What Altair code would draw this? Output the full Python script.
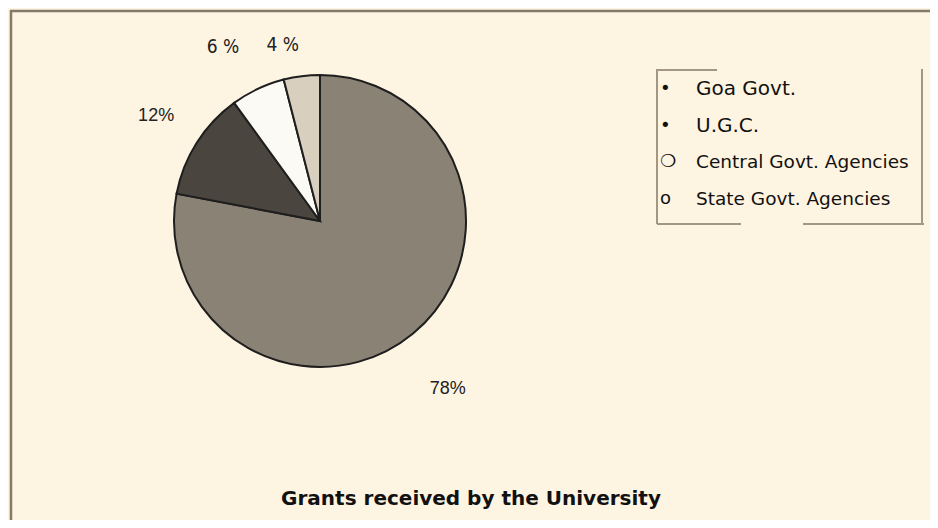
import altair as alt
import pandas as pd

# ---- data ----
categories = ["Goa Govt.", "U.G.C.", "Central Govt. Agencies", "State Govt. Agencies"]
shares = [78, 12, 6, 4]
share_labels = ["78%", "12%", "6 %", "4 %"]
legend_bullets = ["\u2022", "\u2022", "\u274D", "o"]
slice_colors = ["#8a8274", "#4a453e", "#fbfaf4", "#d8cfbf"]
title_text = "Grants received by the University"

df = pd.DataFrame({
    "cat": categories,
    "share": shares,
    "label": share_labels,
    "bullet": legend_bullets,
    "idx": list(range(len(categories))),
})

BG = "#fef4e2"
CX, CY = 310, 211   # pie centre (chart coords)

base = alt.Chart(df)

theta = alt.Theta("share:Q", stack=True)
order = alt.Order("idx:Q")

pie = base.mark_arc(outerRadius=146, stroke="#1e1e1e", strokeWidth=2).encode(
    theta=theta,
    order=order,
    color=alt.Color("cat:N", scale=alt.Scale(domain=categories, range=slice_colors), legend=None),
    x=alt.value(CX),
    y=alt.value(CY),
)

# per-label placement (radius, dx, dy, font, size)
label_style = [
    (210, -6, 6, "Liberation Sans", 18),
    (200, 5, 2, "Liberation Sans", 18),
    (195, -14, 2, "DejaVu Sans Condensed, DejaVu Sans", 19),
    (178, -15, 1, "DejaVu Sans Condensed, DejaVu Sans", 19),
]
label_layers = []
for i, (r, dx, dy, font, fs) in enumerate(label_style):
    label_layers.append(
        base.mark_text(radius=r, dx=dx, dy=dy, font=font, fontSize=fs,
                       color="#222222", align="center", baseline="middle").encode(
            theta=theta,
            order=order,
            text=alt.condition(alt.datum.idx == i, alt.Text("label:N"), alt.value("")),
            x=alt.value(CX),
            y=alt.value(CY),
        )
    )

legend_y = alt.Y("idx:Q", scale=alt.Scale(domain=[0, 3], range=[79, 189]), axis=None)

legend_bullet = base.mark_text(align="left", baseline="middle", font="DejaVu Sans",
                               fontSize=18, color="#111111").encode(
    x=alt.value(650),
    y=legend_y,
    text="bullet:N",
)
legend_text_top = base.transform_filter(alt.datum.idx < 2).mark_text(
    align="left", baseline="middle", font="DejaVu Sans", fontSize=20, color="#111111").encode(
    x=alt.value(686),
    y=legend_y,
    text="cat:N",
)
legend_text_bot = base.transform_filter(alt.datum.idx >= 2).mark_text(
    align="left", baseline="middle", font="DejaVu Sans", fontSize=18.5, color="#111111").encode(
    x=alt.value(686),
    y=legend_y,
    text="cat:N",
)

one = alt.Chart(pd.DataFrame({"k": [0]}))
box_color = "#a39682"
box = [
    one.mark_rule(color=box_color, strokeWidth=2).encode(x=alt.value(647), y=alt.value(59), y2=alt.value(214)),
    one.mark_rule(color=box_color, strokeWidth=2).encode(x=alt.value(912), y=alt.value(59), y2=alt.value(214)),
    one.mark_rule(color=box_color, strokeWidth=2).encode(x=alt.value(647), x2=alt.value(707), y=alt.value(60)),
    one.mark_rule(color=box_color, strokeWidth=2).encode(x=alt.value(647), x2=alt.value(731), y=alt.value(214)),
    one.mark_rule(color=box_color, strokeWidth=2).encode(x=alt.value(793), x2=alt.value(914), y=alt.value(214)),
]
frame_color = "#857a6a"
frame = [
    one.mark_rule(color=frame_color, strokeWidth=2.5).encode(x=alt.value(1), y=alt.value(0), y2=alt.value(512)),
    one.mark_rule(color=frame_color, strokeWidth=2.5).encode(x=alt.value(0), x2=alt.value(922), y=alt.value(1)),
]

title = one.mark_text(font="DejaVu Sans", fontWeight="bold", fontSize=20, color="#111111",
                      align="center", baseline="middle").encode(
    x=alt.value(461), y=alt.value(489), text=alt.value(title_text))

chart = alt.layer(
    pie, *label_layers, legend_bullet, legend_text_top, legend_text_bot, *box, *frame, title
).properties(
    width=922, height=512, padding=0, background=BG,
    autosize=alt.AutoSizeParams(type="fit", contains="padding"),
).configure_view(stroke=None)

chart.save("out.html", embed_options={"renderer": "svg", "actions": False})
